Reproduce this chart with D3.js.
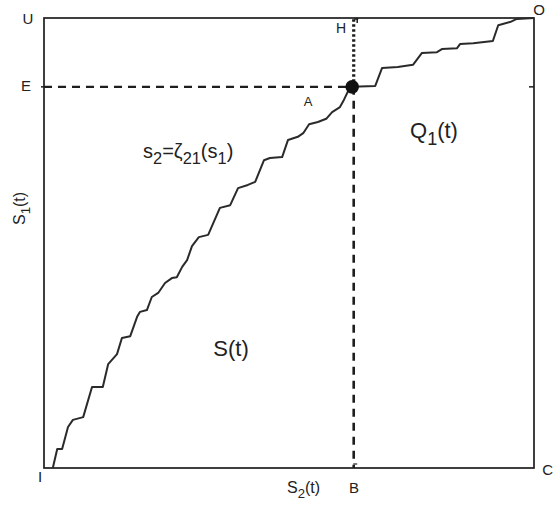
<!DOCTYPE html>
<html>
<head>
<meta charset="utf-8">
<script src="https://cdn.jsdelivr.net/npm/d3@7"></script>
<style>
  html, body { margin: 0; padding: 0; background: #fff; }
  svg { display: block; }
  text { font-family: "Liberation Sans", Arial, sans-serif; fill: #222; }
</style>
</head>
<body>
<script>
// Boundary curve s2 = ζ21(s1): s2 (horizontal) and s1 (vertical) values, both in [0, 100]
const curveS2 = [1.8, 2.7, 3.7, 4.9, 5.9, 8.0, 9.8, 12.0, 13.1, 14.9, 15.9, 17.6, 19.0, 19.6, 21.0,
  22.0, 23.3, 24.7, 26.1, 27.1, 28.2, 29.2, 30.2, 31.6, 33.5, 35.9, 38.0, 39.6, 41.6, 43.1,
  44.9, 46.1, 48.6, 49.8, 51.8, 52.9, 54.1, 55.9, 57.6, 58.8, 60.4, 61.2, 62.0, 62.9,
  67.6, 69.0, 72.2, 75.3, 77.1, 80.2, 81.2, 84.3, 84.9, 87.6, 91.6, 92.7, 95.1, 96.5, 100];
const curveS1 = [0, 4.2, 4.2, 9.1, 10.7, 11.3, 18.0, 18.0, 23.1, 25.3, 28.9, 29.3, 33.6, 34.7, 35.1,
  38.0, 38.9, 41.1, 42.2, 42.4, 44.7, 46.2, 49.3, 51.3, 51.8, 57.8, 58.4, 62.2, 62.9, 63.6,
  68.4, 68.9, 69.1, 72.9, 73.6, 74.4, 76.4, 76.9, 77.6, 79.1, 80.2, 81.8, 83.6, 84.7,
  84.9, 88.9, 89.1, 89.6, 92.2, 92.4, 93.1, 93.3, 94.2, 94.4, 94.9, 98.4, 99.1, 99.8, 100];

// Current state (S2(t), S1(t)) on the boundary
const stateS2 = [62.9];
const stateS1 = [84.7];

// Corner and reference labels
const cornerLabels = ["U", "O", "I", "C"];
const refLabels = ["E", "B", "H", "A"];

const W = 554, H = 511;
const margin = { left: 44, right: 20, top: 18, bottom: 43 };

const svg = d3.select("body").append("svg").attr("width", W).attr("height", H);

const x = d3.scaleLinear().domain([0, 100]).range([margin.left, W - margin.right]);
const y = d3.scaleLinear().domain([0, 100]).range([H - margin.bottom, margin.top]);

const ink = "#1e1e1e";

// Frame
svg.append("rect")
  .attr("x", x(0)).attr("y", y(100))
  .attr("width", x(100) - x(0)).attr("height", y(0) - y(100))
  .attr("fill", "none").attr("stroke", ink).attr("stroke-width", 1.7);

const sx = stateS2[0], sy = stateS1[0];

// Small ticks on the frame at E and B
svg.append("line").attr("x1", x(0) - 3).attr("x2", x(0)).attr("y1", y(sy)).attr("y2", y(sy))
  .attr("stroke", ink).attr("stroke-width", 1.5);
svg.append("line").attr("x1", x(100) - 5).attr("x2", x(100)).attr("y1", y(sy)).attr("y2", y(sy))
  .attr("stroke", ink).attr("stroke-width", 1.5);
svg.append("line").attr("x1", x(sx) + 1).attr("x2", x(sx) + 5).attr("y1", y(0) - 4).attr("y2", y(0) - 4)
  .attr("stroke", ink).attr("stroke-width", 1.2);
svg.append("line").attr("x1", x(sx) + 2).attr("x2", x(sx) + 6).attr("y1", y(100) + 1).attr("y2", y(100) + 1)
  .attr("stroke", ink).attr("stroke-width", 1.5);
svg.append("line").attr("x1", x(sx) + 5).attr("x2", x(sx) + 5).attr("y1", y(100)).attr("y2", y(100) + 5)
  .attr("stroke", ink).attr("stroke-width", 1.5);

// Dashed guide lines through the state point
svg.append("line")
  .attr("x1", x(0)).attr("x2", x(sx)).attr("y1", y(sy)).attr("y2", y(sy))
  .attr("stroke", ink).attr("stroke-width", 2.2).attr("stroke-dasharray", "8,6");
svg.append("line")
  .attr("x1", x(sx) + 1.5).attr("x2", x(sx) + 1.5).attr("y1", y(sy)).attr("y2", y(0))
  .attr("stroke", ink).attr("stroke-width", 2.6).attr("stroke-dasharray", "8,6");
// Dotted segment up to the top edge
svg.append("line")
  .attr("x1", x(sx) + 1.5).attr("x2", x(sx) + 1.5).attr("y1", y(sy)).attr("y2", y(100))
  .attr("stroke", ink).attr("stroke-width", 3.2).attr("stroke-dasharray", "2.5,2.5");

// Boundary curve
const pts = curveS2.map((v, i) => [v, curveS1[i]]);
svg.append("path")
  .datum(pts)
  .attr("d", d3.line().x(d => x(d[0])).y(d => y(d[1])))
  .attr("fill", "none").attr("stroke", "#2a2a2a").attr("stroke-width", 2)
  .attr("stroke-linejoin", "round");

// State point
svg.append("circle").attr("cx", x(sx)).attr("cy", y(sy)).attr("r", 6.8).attr("fill", "#111");

// Labels
function label(t, px, py, size, anchor) {
  return svg.append("text").attr("x", px).attr("y", py)
    .attr("font-size", size).attr("text-anchor", anchor || "middle").text(t);
}
label(cornerLabels[0], 28, 24, 15);
label(cornerLabels[1], 539, 15, 15);
label(cornerLabels[2], 40, 482, 15);
label(cornerLabels[3], 553, 475, 15, "end");
label(refLabels[0], 26, 91, 15);
label(refLabels[1], 354, 493, 15);
label(refLabels[2], 341, 33, 14);
label(refLabels[3], 308, 106, 13);

// Text with subscripts
function subText(parts, px, py, size, anchor, rotate) {
  const t = svg.append("text").attr("x", px).attr("y", py)
    .attr("font-size", size).attr("text-anchor", anchor || "start");
  if (rotate) t.attr("transform", `rotate(${rotate},${px},${py})`);
  let shifted = false;
  parts.forEach(p => {
    const s = t.append("tspan").text(p[0]);
    if (p[1] && !shifted) { s.attr("dy", size * 0.32).attr("font-size", size * 0.82); shifted = true; }
    else if (p[1]) { s.attr("font-size", size * 0.82); }
    else if (shifted) { s.attr("dy", -size * 0.32); shifted = false; }
  });
  return t;
}

subText([["s"], ["2", 1], ["=ζ"], ["21", 1], ["(s"], ["1", 1], [")"]], 143, 158, 20);
subText([["Q"], ["1", 1], ["(t)"]], 410, 138, 22);
label("S(t)", 231, 356, 22);
subText([["S"], ["2", 1], ["(t)"]], 287, 493, 16);
subText([["S"], ["1", 1], ["(t)"]], 25, 225, 16, "start", -90);
</script>
</body>
</html>
